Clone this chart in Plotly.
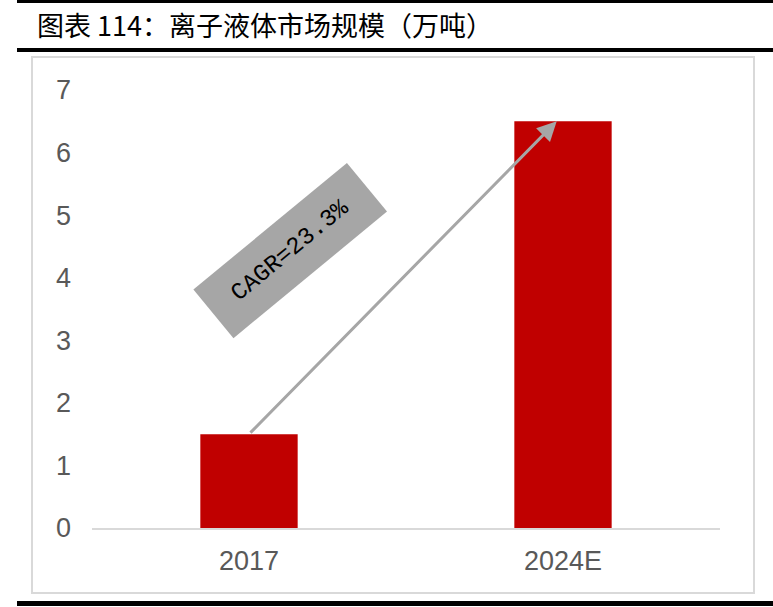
import plotly.graph_objects as go

categories = ["2017", "2024E"]
values = [1.5, 6.5]
y_ticks = [0, 1, 2, 3, 4, 5, 6, 7]
cagr_label = "CAGR=23.3%"
title_text = "图表 114：离子液体市场规模（万吨）"

W, H = 773, 607
L, R, T, B = 92, 53, 90, 79
pw, ph = W - L - R, H - T - B

def px(x):
    return (x - L) / pw

def py(y):
    return (H - B - y) / ph

fig = go.Figure()
fig.add_trace(go.Bar(x=list(range(len(categories))), y=values,
                     marker=dict(color="#C00000", line=dict(width=0)),
                     width=0.31, hoverinfo="skip"))

shapes = [
    dict(type="rect", xref="paper", yref="paper", x0=px(17), x1=px(773), y0=py(0), y1=py(3),
         fillcolor="black", line=dict(width=0), layer="above"),
    dict(type="rect", xref="paper", yref="paper", x0=px(17), x1=px(773), y0=py(48), y1=py(52),
         fillcolor="black", line=dict(width=0), layer="above"),
    dict(type="rect", xref="paper", yref="paper", x0=px(17), x1=px(773), y0=py(601), y1=py(606),
         fillcolor="black", line=dict(width=0), layer="above"),
    dict(type="rect", xref="paper", yref="paper", x0=px(32), x1=px(754), y0=py(57), y1=py(593),
         fillcolor="rgba(0,0,0,0)", line=dict(color="#D9D9D9", width=2), layer="below"),
]

tick_font = dict(family="Liberation Sans Narrow, Arial Narrow, Liberation Sans, sans-serif",
                 size=27, color="#595959")

annotations = [
    dict(xref="paper", yref="paper", x=px(35), y=py(25), xanchor="left", yanchor="middle",
         text=title_text, showarrow=False,
         font=dict(family="Noto Sans CJK SC", size=27, color="black")),
    dict(xref="x", yref="y", x=1 - 0.02, y=values[1], axref="x", ayref="y", ax=0, ay=values[0],
         showarrow=True, arrowhead=2, arrowsize=1.3, arrowwidth=3, arrowcolor="#A6A6A6",
         text="", standoff=0, startstandoff=0),
    dict(xref="paper", yref="paper", x=px(289.5), y=py(250.5), xanchor="center", yanchor="middle",
         text=cagr_label, showarrow=False, textangle=-39.5, bgcolor="#A6A6A6",
         width=196, height=60, align="center", valign="middle",
         font=dict(family="Liberation Mono", size=24, color="black")),
]

fig.update_layout(
    width=W, height=H,
    margin=dict(l=L, r=R, t=T, b=B),
    paper_bgcolor="white", plot_bgcolor="white",
    showlegend=False,
    shapes=shapes, annotations=annotations,
    xaxis=dict(tickmode="array", tickvals=list(range(len(categories))), ticktext=categories,
               range=[-0.5, 1.5], showline=True, linecolor="#D9D9D9", linewidth=2,
               showgrid=False, zeroline=False, ticks="",
               tickfont=tick_font, ticklabelstandoff=8),
    yaxis=dict(range=[0, 7], tickvals=y_ticks, showgrid=False, zeroline=False, showline=False,
               ticks="", tickfont=tick_font, ticklabelstandoff=20),
)

fig.write_html("out.html", config={"displayModeBar": False},
               post_script="document.body.style.margin='0';document.body.style.overflow='hidden';")
